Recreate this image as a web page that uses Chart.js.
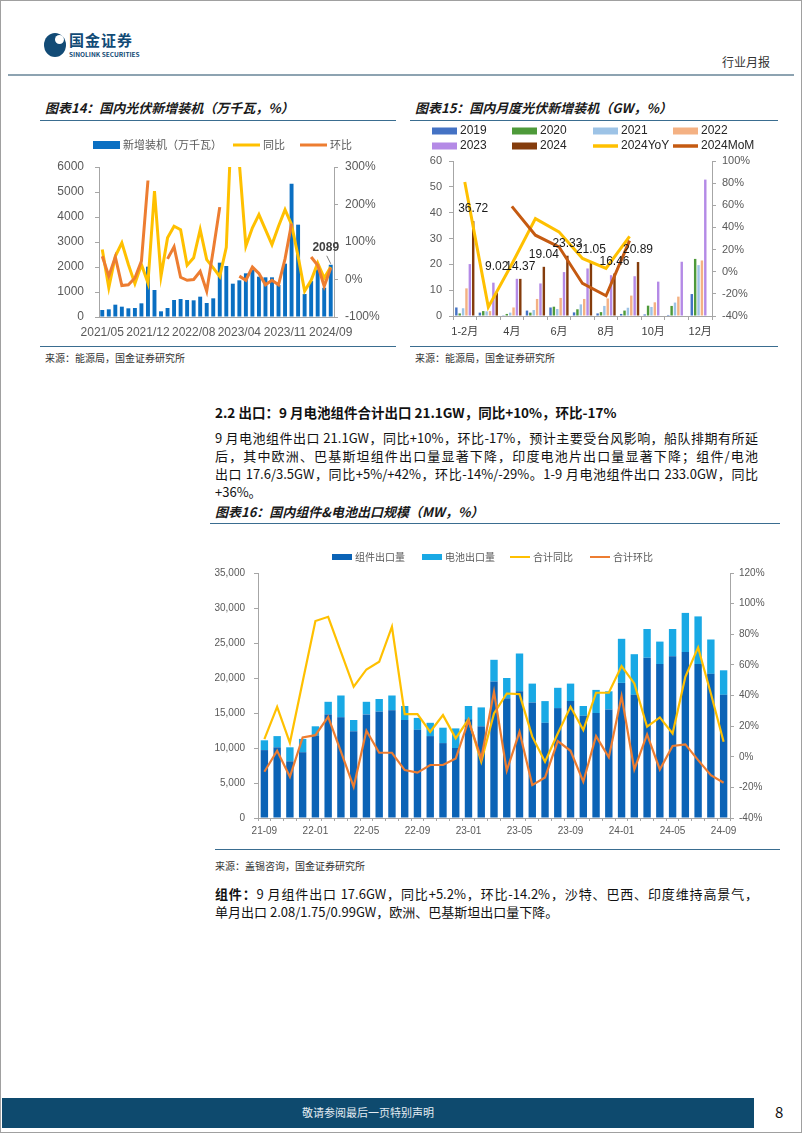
<!DOCTYPE html>
<html lang="zh-CN">
<head>
<meta charset="utf-8">
<title>国内光伏新增装机与组件电池出口</title>
<script src="https://cdn.jsdelivr.net/npm/chart.js@4.4.1/dist/chart.umd.min.js"></script>
<style>
  html, body { margin: 0; padding: 0; background: #fff; }
  #page { position: relative; width: 802px; height: 1133px; overflow: hidden; font-family: 'Noto Sans CJK SC', 'Liberation Sans', sans-serif; color: #111; }
  .abs { position: absolute; }
  .frame { left: 0; top: 0; width: 800px; height: 1131px; border: 1px solid #a0a0a0; }
  .fig-title { font-size: 13px; line-height: 17px; font-weight: bold; font-style: italic; color: #1a1a1a; white-space: nowrap; }
  .rule { height: 1px; background: #3a6d90; }
  .source { font-size: 10px; line-height: 14px; color: #333; white-space: nowrap; }
  .para { width: 543px; font-size: 13px; line-height: 18px; color: #111; }
  .jl { text-align: justify; text-align-last: justify; }
  canvas { position: absolute; }
</style>
</head>
<body>
<div id="page">
  <div class="abs frame"></div>

  <div class="abs" style="left:44px;top:33px;width:22px;height:24px;border-radius:50%;background:#124b76"></div>
  <div class="abs" style="left:55px;top:35px;width:9px;height:9px;border-radius:50%;background:#fff"></div>
  <div class="abs" style="left:69px;top:31px;font-size:15px;line-height:18px;font-weight:bold;color:#124b76;letter-spacing:1px">国金证券</div>
  <div class="abs" style="left:69px;top:50px;font-size:6.5px;line-height:8px;font-weight:bold;color:#124b76">SINOLINK SECURITIES</div>
  <div class="abs" style="left:722px;top:54px;font-size:12px;line-height:16px;color:#333">行业月报</div>
  <div class="abs" style="left:8px;top:74px;width:786px;height:2px;background:#8da3b1"></div>

  <div class="abs fig-title" style="left:45px;top:99px">图表14：国内光伏新增装机（万千瓦，%）</div>
  <div class="abs rule" style="left:40px;top:120px;width:356px"></div>
  <div class="abs fig-title" style="left:415px;top:99px">图表15：国内月度光伏新增装机（GW，%）</div>
  <div class="abs rule" style="left:410px;top:120px;width:368px"></div>

  <canvas id="chart14" width="360" height="215" style="left:40px;top:125px"></canvas>
  <canvas id="chart15" width="370" height="220" style="left:410px;top:122px"></canvas>

  <div class="abs rule" style="left:40px;top:346px;width:356px"></div>
  <div class="abs source" style="left:45px;top:351px">来源：能源局，国金证券研究所</div>
  <div class="abs rule" style="left:410px;top:346px;width:368px"></div>
  <div class="abs source" style="left:415px;top:351px">来源：能源局，国金证券研究所</div>

  <div class="abs" style="left:215px;top:403px;font-size:13.5px;line-height:18px;font-weight:bold;white-space:nowrap">2.2 出口：9 月电池组件合计出口 21.1GW，同比+10%，环比-17%</div>
  <div class="abs para" style="left:215px;top:429px">
    <div class="jl">9 月电池组件出口 21.1GW，同比+10%，环比-17%，预计主要受台风影响，船队排期有所延</div>
    <div class="jl">后，其中欧洲、巴基斯坦组件出口量显著下降，印度电池片出口量显著下降；组件/电池</div>
    <div class="jl">出口 17.6/3.5GW，同比+5%/+42%，环比-14%/-29%。1-9 月电池组件出口 233.0GW，同比</div>
    <div>+36%。</div>
  </div>

  <div class="abs fig-title" style="left:215px;top:503px">图表16：国内组件&amp;电池出口规模（MW，%）</div>
  <div class="abs rule" style="left:210px;top:523px;width:570px"></div>

  <canvas id="chart16" width="575" height="305" style="left:205px;top:540px"></canvas>

  <div class="abs rule" style="left:215px;top:849px;width:565px"></div>
  <div class="abs source" style="left:215px;top:859px">来源：盖锡咨询，国金证券研究所</div>

  <div class="abs para" style="left:215px;top:885px">
    <div class="jl"><b>组件：</b>9 月组件出口 17.6GW，同比+5.2%，环比-14.2%，沙特、巴西、印度维持高景气，</div>
    <div>单月出口 2.08/1.75/0.99GW，欧洲、巴基斯坦出口量下降。</div>
  </div>

  <div class="abs" style="left:2px;top:1098px;width:752px;height:30px;background:#0e4a6e"></div>
  <div class="abs" style="left:302px;top:1105px;font-size:11px;line-height:15px;color:#e3ecf2;white-space:nowrap">敬请参阅最后一页特别声明</div>
  <div class="abs" style="left:775px;top:1103px;font-size:15px;line-height:18px;color:#111">8</div>
</div>

<script>
// 图表14
const installMonths = [
  '2021/05', '2021/06', '2021/07', '2021/08', '2021/09', '2021/10', '2021/11', '2021/12',
  '2022/02', '2022/03', '2022/04', '2022/05', '2022/06', '2022/07', '2022/08', '2022/09', '2022/10', '2022/11', '2022/12',
  '2023/02', '2023/03', '2023/04', '2023/05', '2023/06', '2023/07', '2023/08', '2023/09', '2023/10', '2023/11', '2023/12',
  '2024/02', '2024/03', '2024/04', '2024/05', '2024/08', '2024/09'
];
const newInstall = [
  280, 307, 493, 413, 347, 360, 547, 2013,
  1080, 227, 360, 680, 720, 680, 667, 813, 560, 747, 2173,
  2040, 1333, 1467, 1747, 1880, 1613, 1587, 1587, 1280, 2133, 5333,
  3693, 920, 1437, 1904, 1170, 2089
];
const installYoY = [
  80, -22, 62, 98, 40, -11, 40, -9,
  236, 9, 111, 142, 133, 38, 58, 133, 53, 31, 8,
  86, 500, 310, 89, 138, 173, 133, 93, 142, 186, 146,
  62, -31, -2, 44, 4, 33
];
const installMoM = [
  62, 9, 60, -16, -14, 4, 49, 264,
  null, null, 55, 87, 6, -2, 0, 22, -31, 78, 193,
  null, null, 9, -2, 33, 16, -14, -2, -14, 55, 149,
  null, null, 60, 38, -18, 31
];

// 图表15
const monthGroups = ['1-2月', '3月', '4月', '5月', '6月', '7月', '8月', '9月', '10月', '11月', '12月'];
const gw2019 = [3.3, 1.3, 0.3, 2.1, 3.3, 1.4, 1.0, 0.8, 0.6, 0.4, 8.5];
const gw2020 = [1.0, 1.9, 0.8, 1.3, 3.6, 2.6, 1.5, 2.1, 4.0, 3.9, 22.1];
const gw2021 = [3.0, 1.8, 1.3, 2.3, 2.7, 4.5, 3.9, 3.2, 3.5, 5.2, 19.7];
const gw2022 = [10.7, 1.9, 3.3, 6.6, 7.0, 6.6, 6.8, 7.9, 5.3, 7.5, 21.5];
const gw2023 = [20.1, 12.9, 14.4, 12.6, 17.0, 18.4, 15.8, 15.4, 13.3, 21.0, 52.8];
const gw2024 = [36.72, 9.02, 14.37, 19.04, 23.33, 21.05, 16.46, 20.89, null, null, null];
const yoy2024 = [81, -32, 7, 48, 36, 12, 3, 32, null, null, null];
const mom2024 = [null, null, 59, 33, 22.5, -10.6, -21.7, 28, null, null, null];

// 图表16
const exportMonths = [
  '21-09', '21-10', '21-11', '21-12', '22-01', '22-02', '22-03', '22-04', '22-05', '22-06', '22-07', '22-08',
  '22-09', '22-10', '22-11', '22-12', '23-01', '23-02', '23-03', '23-04', '23-05', '23-06', '23-07', '23-08',
  '23-09', '23-10', '23-11', '23-12', '24-01', '24-02', '24-03', '24-04', '24-05', '24-06', '24-07', '24-08',
  '24-09'
];
const moduleExport = [
  9700, 10100, 8100, 9400, 11800, 14800, 14400, 12400, 14800, 15200, 15400, 14000,
  12600, 11700, 10700, 10000, 14100, 13100, 19500, 17100, 18100, 16500, 13600, 15700,
  16700, 14600, 15000, 15500, 19300, 17600, 22900, 22000, 23100, 23700, 22000, 20600,
  17600
];
const cellExport = [
  1400, 1600, 2000, 1900, 1300, 1800, 3100, 1600, 1800, 1800, 2100, 2000,
  1700, 1900, 2200, 2800, 1900, 2700, 3100, 2900, 5400, 2700, 3100, 2900,
  2500, 1400, 3300, 2600, 6300, 5800, 4100, 3200, 3900, 5600, 6800, 4900,
  3500
];
const exportYoY = [
  11.5, 32.6, 9.1, 49, 88.6, 91.4, 68.5, 45.7, 57, 62, 84.9, 27.9,
  27.9, 16.3, 27.2, 12, 24.4, -3.3, 28.3, 41.3, 40.9, 13.1, -3.3, 15.2,
  32.6, 17.4, 41.8, 41.8, 59.2, 47.9, 19.6, 25.7, 15.2, 52.2, 71.4, 41.3,
  9.8
];
const exportMoM = [
  -9.8, 3.9, -13.1, 12.6, 14.1, 26.1, 3.3, -19.6, 17, 2.6, 2.6, -8.7,
  -10.4, -5.4, -5.4, -1.1, 23.5, -1.1, 42.4, -9.1, 16.3, -18.5, -13.5, 10.2,
  3.9, -16.3, 13.5, -0.4, 39.6, -8.3, 14.6, -8.3, 7, 8.1, -2.2, -12,
  -17
];

const latin = "'Liberation Sans', 'Noto Sans CJK SC', sans-serif";
Chart.defaults.font.family = latin;
Chart.defaults.animation = false;

const axisGray = '#a6a6a6';

const fixedLegend = {
  id: 'fixedLegend',
  afterDraw(chart, args, opts) {
    if (!opts.items) return;
    const ctx = chart.ctx;
    ctx.save();
    ctx.font = opts.font;
    ctx.textBaseline = 'middle';
    ctx.textAlign = 'left';
    chart.data.datasets.forEach((ds, i) => {
      const it = opts.items[i];
      if (!it) return;
      if (ds.type === 'line') {
        ctx.strokeStyle = ds.borderColor;
        ctx.lineWidth = opts.lineWidth;
        ctx.beginPath();
        ctx.moveTo(it.x, it.y);
        ctx.lineTo(it.x + opts.boxW, it.y);
        ctx.stroke();
      } else {
        ctx.fillStyle = ds.backgroundColor;
        ctx.fillRect(it.x, it.y - opts.boxH / 2, opts.boxW, opts.boxH);
      }
      ctx.fillStyle = opts.color;
      ctx.fillText(ds.label, it.x + opts.boxW + opts.gap, it.y);
    });
    ctx.restore();
  }
};

const barValueLabels = {
  id: 'barValueLabels',
  afterDatasetsDraw(chart, args, opts) {
    if (opts.datasetIndex == null) return;
    const ds = chart.data.datasets[opts.datasetIndex];
    const meta = chart.getDatasetMeta(opts.datasetIndex);
    const ctx = chart.ctx;
    ctx.save();
    ctx.font = opts.font;
    ctx.fillStyle = opts.color;
    ctx.textAlign = 'center';
    ctx.textBaseline = 'middle';
    meta.data.forEach((bar, i) => {
      const v = ds.data[i];
      if (v == null) return;
      if (opts.only != null && i !== opts.only) return;
      const lift = (opts.lift && opts.lift[i]) || opts.offset;
      ctx.fillText(opts.format(v), bar.x + (opts.dx || 0), bar.y - lift);
      if (opts.leader) {
        ctx.strokeStyle = opts.leader;
        ctx.lineWidth = 1;
        ctx.beginPath();
        ctx.moveTo(bar.x - 4, bar.y - 9);
        ctx.lineTo(bar.x, bar.y - 1);
        ctx.stroke();
      }
    });
    ctx.restore();
  }
};

const sideAxis = (pos, min, max, step, width, fmt, fontSize, pad) => ({
  position: pos,
  min: min,
  max: max,
  afterFit: s => { s.width = width; },
  border: { display: true, color: axisGray },
  grid: { drawOnChartArea: false, drawTicks: true, tickLength: 4, color: axisGray },
  ticks: { stepSize: step, padding: pad, color: '#595959', font: { size: fontSize }, callback: fmt }
});

new Chart(document.getElementById('chart14'), {
  type: 'bar',
  data: {
    labels: installMonths,
    datasets: [
      { type: 'bar', label: '新增装机（万千瓦）', data: newInstall, backgroundColor: '#0a6fc2', yAxisID: 'y', order: 2, barPercentage: 0.6, categoryPercentage: 1 },
      { type: 'line', label: '同比', data: installYoY, borderColor: '#ffc000', borderWidth: 3, pointRadius: 0, yAxisID: 'y1', order: 1 },
      { type: 'line', label: '环比', data: installMoM, borderColor: '#ed7d31', borderWidth: 3, pointRadius: 0, yAxisID: 'y1', order: 0 }
    ]
  },
  options: {
    responsive: false,
    layout: { padding: { top: 42, left: 0, right: 0, bottom: 0 } },
    plugins: {
      legend: { display: false },
      tooltip: { enabled: false },
      fixedLegend: {
        font: "11px 'Noto Sans CJK SC', sans-serif", color: '#595959', boxW: 27, boxH: 8, lineWidth: 3, gap: 3,
        items: [{ x: 53, y: 20 }, { x: 193, y: 20 }, { x: 260, y: 20 }]
      },
      barValueLabels: {
        datasetIndex: 0, only: 35, offset: 17, dx: -5, font: "bold 12px 'Liberation Sans', sans-serif", color: '#404040',
        leader: '#7f7f7f', format: v => String(v)
      }
    },
    scales: {
      x: {
        afterFit: s => { s.height = 23; },
        border: { display: true, color: axisGray },
        grid: { drawOnChartArea: false, drawTicks: false },
        ticks: {
          autoSkip: false, maxRotation: 0, padding: 8, color: '#595959', font: { size: 12 },
          callback: (v, i) => (i % 7 === 0 ? installMonths[i] : '')
        }
      },
      y: sideAxis('left', 0, 6000, 1000, 59, v => v, 12, 11),
      y1: sideAxis('right', -100, 300, 100, 66, v => v + '%', 12, 7)
    }
  },
  plugins: [fixedLegend, barValueLabels]
});

const yearBar = (label, data, color) => ({
  type: 'bar', label: label, data: data, backgroundColor: color, yAxisID: 'y', order: 2,
  barPercentage: 0.72, categoryPercentage: 0.86
});

new Chart(document.getElementById('chart15'), {
  type: 'bar',
  data: {
    labels: monthGroups,
    datasets: [
      yearBar('2019', gw2019, '#4472c4'),
      yearBar('2020', gw2020, '#4e9a3a'),
      yearBar('2021', gw2021, '#9dc3e6'),
      yearBar('2022', gw2022, '#f4b183'),
      yearBar('2023', gw2023, '#b48ae6'),
      yearBar('2024', gw2024, '#843c0c'),
      { type: 'line', label: '2024YoY', data: yoy2024, borderColor: '#ffc000', borderWidth: 3, pointRadius: 0, yAxisID: 'y1', order: 1 },
      { type: 'line', label: '2024MoM', data: mom2024, borderColor: '#c55a11', borderWidth: 3, pointRadius: 0, yAxisID: 'y1', order: 0 }
    ]
  },
  options: {
    responsive: false,
    layout: { padding: { top: 39, left: 0, right: 0, bottom: 0 } },
    plugins: {
      legend: { display: false },
      tooltip: { enabled: false },
      fixedLegend: {
        font: "12px 'Liberation Sans', sans-serif", color: '#262626', boxW: 25, boxH: 7, lineWidth: 3.5, gap: 3,
        items: [
          { x: 22, y: 9 }, { x: 102, y: 9 }, { x: 183, y: 9 }, { x: 263, y: 9 },
          { x: 22, y: 24 }, { x: 102, y: 24 }, { x: 183, y: 24 }, { x: 263, y: 24 }
        ]
      },
      barValueLabels: {
        datasetIndex: 5, offset: 12, lift: { 1: 26 }, font: "12px 'Liberation Sans', sans-serif", color: '#1a1a1a',
        format: v => v.toFixed(2)
      }
    },
    scales: {
      x: {
        afterFit: s => { s.height = 26; },
        border: { display: true, color: axisGray },
        grid: { drawOnChartArea: false, drawTicks: true, tickLength: 4, color: axisGray },
        ticks: {
          autoSkip: false, maxRotation: 0, padding: 5, color: '#404040', font: { size: 11 },
          callback: (v, i) => (i % 2 === 0 ? monthGroups[i] : '')
        }
      },
      y: sideAxis('left', 0, 60, 10, 43, v => v, 11, 7),
      y1: sideAxis('right', -40, 100, 20, 68, v => v + '%', 11, 6)
    }
  },
  plugins: [fixedLegend, barValueLabels]
});

new Chart(document.getElementById('chart16'), {
  type: 'bar',
  data: {
    labels: exportMonths,
    datasets: [
      { type: 'bar', label: '组件出口量', data: moduleExport, backgroundColor: '#0b63b6', yAxisID: 'y', stack: 'exp', order: 2, barPercentage: 0.58, categoryPercentage: 1 },
      { type: 'bar', label: '电池出口量', data: cellExport, backgroundColor: '#19a9e5', yAxisID: 'y', stack: 'exp', order: 2, barPercentage: 0.58, categoryPercentage: 1 },
      { type: 'line', label: '合计同比', data: exportYoY, borderColor: '#ffc000', borderWidth: 2.2, pointRadius: 0, yAxisID: 'y1', order: 1 },
      { type: 'line', label: '合计环比', data: exportMoM, borderColor: '#ed7d31', borderWidth: 2.2, pointRadius: 0, yAxisID: 'y1', order: 0 }
    ]
  },
  options: {
    responsive: false,
    layout: { padding: { top: 33, left: 0, right: 0, bottom: 0 } },
    plugins: {
      legend: { display: false },
      tooltip: { enabled: false },
      fixedLegend: {
        font: "10px 'Noto Sans CJK SC', sans-serif", color: '#595959', boxW: 20, boxH: 6, lineWidth: 2, gap: 3,
        items: [{ x: 127, y: 17 }, { x: 217, y: 17 }, { x: 305, y: 17 }, { x: 385, y: 17 }]
      }
    },
    scales: {
      x: {
        stacked: true,
        afterFit: s => { s.height = 27; },
        border: { display: true, color: axisGray },
        grid: { drawOnChartArea: false, drawTicks: true, tickLength: 3, color: axisGray },
        ticks: {
          autoSkip: false, maxRotation: 0, padding: 4, color: '#595959', font: { size: 10 },
          callback: (v, i) => (i % 4 === 0 ? exportMonths[i] : '')
        }
      },
      y: { ...sideAxis('left', 0, 35000, 5000, 53, v => v.toLocaleString('en-US'), 10, 9), stacked: true },
      y1: sideAxis('right', -40, 120, 20, 50, v => v + '%', 10, 5)
    }
  },
  plugins: [fixedLegend]
});
</script>
</body>
</html>
